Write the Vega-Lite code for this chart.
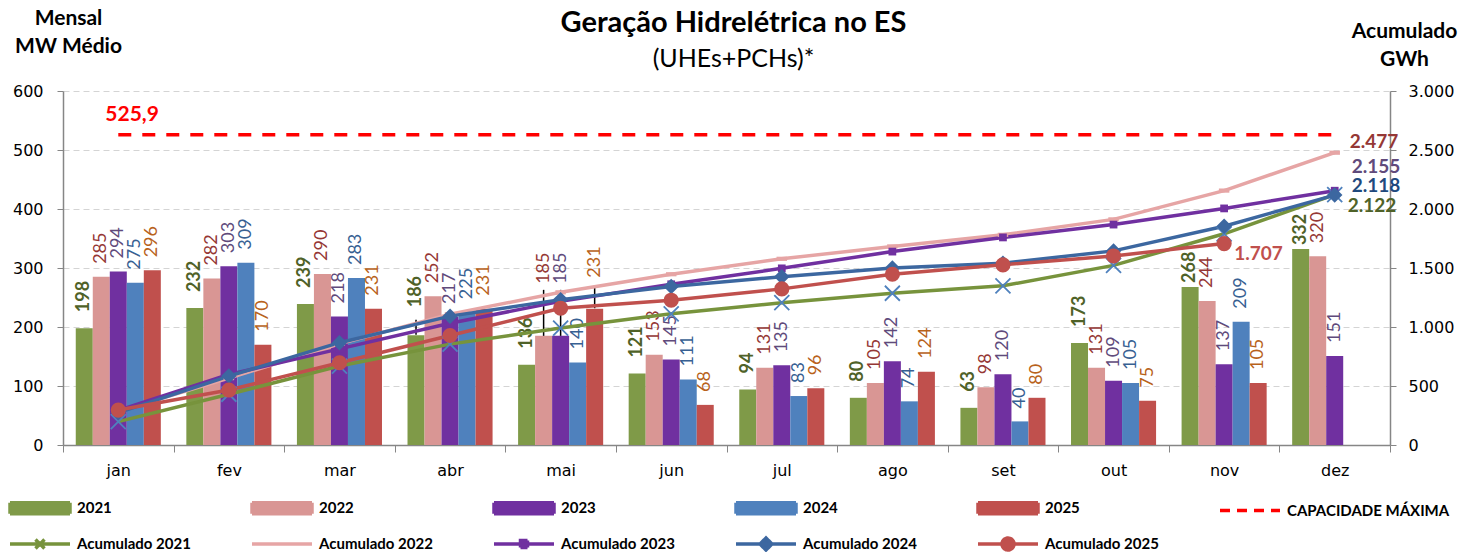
{
  "$schema": "https://vega.github.io/schema/vega-lite/v6.json",
  "autosize": {"type": "none"},
  "width": 1327,
  "height": 354,
  "padding": {"left": 63, "top": 91, "right": 69, "bottom": 107},
  "background": "white",
  "config": {
    "locale": {"number": {"decimal": ",", "thousands": ".", "grouping": [3], "currency": ["R$", ""]}},
    "view": {"stroke": null},
    "font": "Lato"
  },
  "title": {
    "text": "Geração Hidrelétrica no ES",
    "subtitle": "(UHEs+PCHs)*",
    "anchor": "middle",
    "frame": "group",
    "font": "Lato",
    "fontSize": 29,
    "fontWeight": "bold",
    "color": "black",
    "subtitleFont": "Lato",
    "subtitleFontSize": 25,
    "subtitleColor": "black",
    "subtitlePadding": 9,
    "offset": -65,
    "dx": 7
  },
  "datasets": {
    "monthly": [
      {"month": "jan", "series": "2021", "value": 198}, {"month": "fev", "series": "2021", "value": 232}, {"month": "mar", "series": "2021", "value": 239}, {"month": "abr", "series": "2021", "value": 186}, {"month": "mai", "series": "2021", "value": 136}, {"month": "jun", "series": "2021", "value": 121}, {"month": "jul", "series": "2021", "value": 94}, {"month": "ago", "series": "2021", "value": 80}, {"month": "set", "series": "2021", "value": 63}, {"month": "out", "series": "2021", "value": 173}, {"month": "nov", "series": "2021", "value": 268}, {"month": "dez", "series": "2021", "value": 332},
      {"month": "jan", "series": "2022", "value": 285}, {"month": "fev", "series": "2022", "value": 282}, {"month": "mar", "series": "2022", "value": 290}, {"month": "abr", "series": "2022", "value": 252}, {"month": "mai", "series": "2022", "value": 185}, {"month": "jun", "series": "2022", "value": 153}, {"month": "jul", "series": "2022", "value": 131}, {"month": "ago", "series": "2022", "value": 105}, {"month": "set", "series": "2022", "value": 98}, {"month": "out", "series": "2022", "value": 131}, {"month": "nov", "series": "2022", "value": 244}, {"month": "dez", "series": "2022", "value": 320},
      {"month": "jan", "series": "2023", "value": 294}, {"month": "fev", "series": "2023", "value": 303}, {"month": "mar", "series": "2023", "value": 218}, {"month": "abr", "series": "2023", "value": 217}, {"month": "mai", "series": "2023", "value": 185}, {"month": "jun", "series": "2023", "value": 145}, {"month": "jul", "series": "2023", "value": 135}, {"month": "ago", "series": "2023", "value": 142}, {"month": "set", "series": "2023", "value": 120}, {"month": "out", "series": "2023", "value": 109}, {"month": "nov", "series": "2023", "value": 137}, {"month": "dez", "series": "2023", "value": 151},
      {"month": "jan", "series": "2024", "value": 275}, {"month": "fev", "series": "2024", "value": 309}, {"month": "mar", "series": "2024", "value": 283}, {"month": "abr", "series": "2024", "value": 225}, {"month": "mai", "series": "2024", "value": 140}, {"month": "jun", "series": "2024", "value": 111}, {"month": "jul", "series": "2024", "value": 83}, {"month": "ago", "series": "2024", "value": 74}, {"month": "set", "series": "2024", "value": 40}, {"month": "out", "series": "2024", "value": 105}, {"month": "nov", "series": "2024", "value": 209},
      {"month": "jan", "series": "2025", "value": 296}, {"month": "fev", "series": "2025", "value": 170}, {"month": "mar", "series": "2025", "value": 231}, {"month": "abr", "series": "2025", "value": 231}, {"month": "mai", "series": "2025", "value": 231}, {"month": "jun", "series": "2025", "value": 68}, {"month": "jul", "series": "2025", "value": 96}, {"month": "ago", "series": "2025", "value": 124}, {"month": "set", "series": "2025", "value": 80}, {"month": "out", "series": "2025", "value": 75}, {"month": "nov", "series": "2025", "value": 105}
    ],
    "cumul": [
      {"month": "jan", "series": "Acumulado 2021", "cum": 198}, {"month": "fev", "series": "Acumulado 2021", "cum": 430}, {"month": "mar", "series": "Acumulado 2021", "cum": 669}, {"month": "abr", "series": "Acumulado 2021", "cum": 855}, {"month": "mai", "series": "Acumulado 2021", "cum": 991}, {"month": "jun", "series": "Acumulado 2021", "cum": 1112}, {"month": "jul", "series": "Acumulado 2021", "cum": 1206}, {"month": "ago", "series": "Acumulado 2021", "cum": 1286}, {"month": "set", "series": "Acumulado 2021", "cum": 1349}, {"month": "out", "series": "Acumulado 2021", "cum": 1522}, {"month": "nov", "series": "Acumulado 2021", "cum": 1790}, {"month": "dez", "series": "Acumulado 2021", "cum": 2122},
      {"month": "jan", "series": "Acumulado 2022", "cum": 285}, {"month": "fev", "series": "Acumulado 2022", "cum": 567}, {"month": "mar", "series": "Acumulado 2022", "cum": 857}, {"month": "abr", "series": "Acumulado 2022", "cum": 1109}, {"month": "mai", "series": "Acumulado 2022", "cum": 1294}, {"month": "jun", "series": "Acumulado 2022", "cum": 1447}, {"month": "jul", "series": "Acumulado 2022", "cum": 1578}, {"month": "ago", "series": "Acumulado 2022", "cum": 1683}, {"month": "set", "series": "Acumulado 2022", "cum": 1781}, {"month": "out", "series": "Acumulado 2022", "cum": 1912}, {"month": "nov", "series": "Acumulado 2022", "cum": 2156}, {"month": "dez", "series": "Acumulado 2022", "cum": 2477},
      {"month": "jan", "series": "Acumulado 2023", "cum": 294}, {"month": "fev", "series": "Acumulado 2023", "cum": 597}, {"month": "mar", "series": "Acumulado 2023", "cum": 815}, {"month": "abr", "series": "Acumulado 2023", "cum": 1032}, {"month": "mai", "series": "Acumulado 2023", "cum": 1217}, {"month": "jun", "series": "Acumulado 2023", "cum": 1362}, {"month": "jul", "series": "Acumulado 2023", "cum": 1497}, {"month": "ago", "series": "Acumulado 2023", "cum": 1639}, {"month": "set", "series": "Acumulado 2023", "cum": 1759}, {"month": "out", "series": "Acumulado 2023", "cum": 1868}, {"month": "nov", "series": "Acumulado 2023", "cum": 2005}, {"month": "dez", "series": "Acumulado 2023", "cum": 2155},
      {"month": "jan", "series": "Acumulado 2024", "cum": 275}, {"month": "fev", "series": "Acumulado 2024", "cum": 584}, {"month": "mar", "series": "Acumulado 2024", "cum": 867}, {"month": "abr", "series": "Acumulado 2024", "cum": 1092}, {"month": "mai", "series": "Acumulado 2024", "cum": 1232}, {"month": "jun", "series": "Acumulado 2024", "cum": 1343}, {"month": "jul", "series": "Acumulado 2024", "cum": 1426}, {"month": "ago", "series": "Acumulado 2024", "cum": 1500}, {"month": "set", "series": "Acumulado 2024", "cum": 1540}, {"month": "out", "series": "Acumulado 2024", "cum": 1645}, {"month": "nov", "series": "Acumulado 2024", "cum": 1854}, {"month": "dez", "series": "Acumulado 2024", "cum": 2118},
      {"month": "jan", "series": "Acumulado 2025", "cum": 296}, {"month": "fev", "series": "Acumulado 2025", "cum": 466}, {"month": "mar", "series": "Acumulado 2025", "cum": 697}, {"month": "abr", "series": "Acumulado 2025", "cum": 928}, {"month": "mai", "series": "Acumulado 2025", "cum": 1159}, {"month": "jun", "series": "Acumulado 2025", "cum": 1227}, {"month": "jul", "series": "Acumulado 2025", "cum": 1323}, {"month": "ago", "series": "Acumulado 2025", "cum": 1447}, {"month": "set", "series": "Acumulado 2025", "cum": 1527}, {"month": "out", "series": "Acumulado 2025", "cum": 1602}, {"month": "nov", "series": "Acumulado 2025", "cum": 1707}
    ],
    "cap": [
      {"month": "jan", "series": "CAPACIDADE MÁXIMA", "cap": 525.9},
      {"month": "dez", "series": "CAPACIDADE MÁXIMA", "cap": 525.9}
    ]
  },
  "layer": [
    {
      "layer": [
        {
          "data": {"name": "monthly"},
          "mark": {"type": "bar"},
          "encoding": {
            "x": {"field": "month", "type": "nominal", "scale": {"domain": ["jan","fev","mar","abr","mai","jun","jul","ago","set","out","nov","dez"], "paddingInner": 0, "paddingOuter": 0},
              "axis": {"title": null, "labelAngle": 0, "labelFont": "DejaVu Sans", "labelFontSize": 16, "labelColor": "black", "labelPadding": 10, "domainColor": "#868686", "tickColor": "#868686", "tickSize": 7, "tickBand": "extent", "domainWidth": 1.5}},
            "xOffset": {"field": "series", "type": "nominal", "scale": {"domain": ["2021","2022","2023","2024","2025"], "paddingOuter": 0.75, "paddingInner": 0}},
            "y": {"field": "value", "type": "quantitative", "scale": {"domain": [0, 600]},
              "axis": {"title": ["Mensal", "MW Médio"], "titleAngle": 0, "titleAlign": "center", "titleBaseline": "top", "titleX": 5, "titleY": -84, "titleFont": "Lato", "titleFontSize": 21, "titleFontWeight": "bold", "titleColor": "black", "titleLineHeight": 28,
                "values": [0,100,200,300,400,500,600], "format": "d", "grid": true, "gridDash": [6,4], "gridColor": "#D4D4D4", "domainColor": "#868686", "domainWidth": 1.5, "tickColor": "#868686", "tickSize": 6, "labelFont": "DejaVu Sans", "labelFontSize": 16, "labelColor": "black", "labelPadding": 14}},
            "color": {"field": "series", "type": "nominal",
              "scale": {"domain": ["2021","2022","2023","2024","2025","CAPACIDADE MÁXIMA","Acumulado 2021","Acumulado 2022","Acumulado 2023","Acumulado 2024","Acumulado 2025"],
                        "range": ["#7F9A48","#D99694","#7030A0","#4F81BD","#C0504D","#FF0000","#77933C","#E6A5A5","#7030A0","#3C67A0","#C0504D"]},
              "legend": {
                "title": null, "orient": "none", "legendX": -55, "legendY": 405, "direction": "horizontal", "columns": 6, "gridAlign": "all",
                "columnPadding": 5, "rowPadding": 10, "symbolSize": 400, "symbolType": "square", "labelOffset": 45,
                "labelFont": "Lato", "labelFontSize": 15, "labelFontWeight": "bold", "labelColor": "black", "labelLimit": 300,
                "encode": {"symbols": {"update": {
                  "shape": {"signal": "datum.value==='Acumulado 2021' ? 'M-1,0H5M1.55,-0.45L2.45,0.45M1.55,0.45L2.45,-0.45' : (datum.value==='Acumulado 2022' || datum.value==='CAPACIDADE MÁXIMA') ? 'M-1,0H5' : datum.value==='Acumulado 2023' ? 'M-1,0H5M1.65,-0.35H2.35V0.35H1.65Z' : datum.value==='Acumulado 2024' ? 'M-1,0H5M2,-0.6L2.6,0L2,0.6L1.4,0Z' : datum.value==='Acumulado 2025' ? 'M-1,0H5M1.4,0A0.6,0.6 0 1,0 2.6,0A0.6,0.6 0 1,0 1.4,0Z' : 'M-1,-0.55H5V0.55H-1Z'"},
                  "fill": {"signal": "datum.value==='Acumulado 2021' ? 'transparent' : scale('color', datum.value)"},
                  "stroke": {"signal": "(indexof(datum.value,'Acumulado')===0 || datum.value==='CAPACIDADE MÁXIMA') ? scale('color', datum.value) : 'transparent'"},
                  "strokeWidth": {"value": 3.5},
                  "strokeDash": {"signal": "datum.value==='CAPACIDADE MÁXIMA' ? [10,7] : [1,0]"},
                  "opacity": {"value": 1},
                  "size": {"value": 400}
                }}}
              }}
          }
        },
        {
          "data": {"name": "cap"},
          "mark": {"type": "line", "strokeWidth": 3.5, "strokeDash": [13, 11]},
          "encoding": {
            "x": {"field": "month", "type": "nominal", "scale": {"domain": ["jan","fev","mar","abr","mai","jun","jul","ago","set","out","nov","dez"], "paddingInner": 0, "paddingOuter": 0}},
            "y": {"field": "cap", "type": "quantitative", "scale": {"domain": [0, 600]}},
            "color": {"field": "series", "type": "nominal",
              "scale": {"domain": ["2021","2022","2023","2024","2025","CAPACIDADE MÁXIMA","Acumulado 2021","Acumulado 2022","Acumulado 2023","Acumulado 2024","Acumulado 2025"],
                        "range": ["#7F9A48","#D99694","#7030A0","#4F81BD","#C0504D","#FF0000","#77933C","#E6A5A5","#7030A0","#3C67A0","#C0504D"]}, "legend": null}
          }
        },
        {
          "data": {"name": "cap"},
          "transform": [{"filter": "datum.month==='jan'"}],
          "mark": {"type": "text", "align": "left", "baseline": "bottom", "dx": -13, "dy": -10, "font": "Lato", "fontSize": 21, "fontWeight": "bold", "color": "#FF0000"},
          "encoding": {
            "x": {"field": "month", "type": "nominal", "scale": {"domain": ["jan","fev","mar","abr","mai","jun","jul","ago","set","out","nov","dez"], "paddingInner": 0, "paddingOuter": 0}},
            "y": {"field": "cap", "type": "quantitative", "scale": {"domain": [0, 600]}},
            "text": {"field": "cap", "type": "quantitative", "format": ".1f"}
          }
        },
        {
          "data": {"name": "monthly"},
          "transform": [{"filter": "datum.series==='2021' && datum.month==='abr'"}],
          "mark": {"type": "tick", "orient": "vertical", "thickness": 1.5, "size": 15, "yOffset": -8, "color": "black", "opacity": 1},
          "encoding": {
            "x": {"field": "month", "type": "nominal", "scale": {"domain": ["jan","fev","mar","abr","mai","jun","jul","ago","set","out","nov","dez"], "paddingInner": 0, "paddingOuter": 0}},
            "xOffset": {"field": "series", "type": "nominal", "scale": {"domain": ["2021","2022","2023","2024","2025"], "paddingOuter": 0.75, "paddingInner": 0}},
            "y": {"field": "value", "type": "quantitative", "scale": {"domain": [0, 600]}}
          }
        },
        {
          "data": {"name": "monthly"},
          "transform": [{"filter": "datum.month==='mai' && (datum.series==='2022' || datum.series==='2023')"}],
          "mark": {"type": "tick", "orient": "vertical", "thickness": 1.5, "size": 46, "yOffset": -23, "color": "black", "opacity": 1},
          "encoding": {
            "x": {"field": "month", "type": "nominal", "scale": {"domain": ["jan","fev","mar","abr","mai","jun","jul","ago","set","out","nov","dez"], "paddingInner": 0, "paddingOuter": 0}},
            "xOffset": {"field": "series", "type": "nominal", "scale": {"domain": ["2021","2022","2023","2024","2025"], "paddingOuter": 0.75, "paddingInner": 0}},
            "y": {"field": "value", "type": "quantitative", "scale": {"domain": [0, 600]}}
          }
        },
        {
          "data": {"name": "monthly"},
          "transform": [{"filter": "datum.month==='mai' && datum.series==='2025'"}],
          "mark": {"type": "tick", "orient": "vertical", "thickness": 1.5, "size": 21, "yOffset": -11, "color": "black", "opacity": 1},
          "encoding": {
            "x": {"field": "month", "type": "nominal", "scale": {"domain": ["jan","fev","mar","abr","mai","jun","jul","ago","set","out","nov","dez"], "paddingInner": 0, "paddingOuter": 0}},
            "xOffset": {"field": "series", "type": "nominal", "scale": {"domain": ["2021","2022","2023","2024","2025"], "paddingOuter": 0.75, "paddingInner": 0}},
            "y": {"field": "value", "type": "quantitative", "scale": {"domain": [0, 600]}}
          }
        },
        {
          "data": {"name": "monthly"},
          "transform": [{"filter": "datum.series==='2021' && datum.month!=='abr' && datum.month!=='nov' && datum.month!=='dez'"}],
          "mark": {"type": "text", "angle": 270, "align": "left", "baseline": "middle", "dx": 16, "font": "Lato", "fontSize": 18, "fontWeight": "bold", "color": "#4F6228"},
          "encoding": {
            "x": {"field": "month", "type": "nominal", "scale": {"domain": ["jan","fev","mar","abr","mai","jun","jul","ago","set","out","nov","dez"], "paddingInner": 0, "paddingOuter": 0}},
            "xOffset": {"field": "series", "type": "nominal", "scale": {"domain": ["2021","2022","2023","2024","2025"], "paddingOuter": 0.75, "paddingInner": 0}},
            "y": {"field": "value", "type": "quantitative", "scale": {"domain": [0, 600]}},
            "text": {"field": "value", "type": "quantitative"}
          }
        },
        {
          "data": {"name": "monthly"},
          "transform": [{"filter": "datum.series==='2021' && datum.month==='abr'"}],
          "mark": {"type": "text", "angle": 270, "align": "left", "baseline": "middle", "dx": 28, "font": "Lato", "fontSize": 18, "fontWeight": "bold", "color": "#4F6228"},
          "encoding": {
            "x": {"field": "month", "type": "nominal", "scale": {"domain": ["jan","fev","mar","abr","mai","jun","jul","ago","set","out","nov","dez"], "paddingInner": 0, "paddingOuter": 0}},
            "xOffset": {"field": "series", "type": "nominal", "scale": {"domain": ["2021","2022","2023","2024","2025"], "paddingOuter": 0.75, "paddingInner": 0}},
            "y": {"field": "value", "type": "quantitative", "scale": {"domain": [0, 600]}},
            "text": {"field": "value", "type": "quantitative"}
          }
        },
        {
          "data": {"name": "monthly"},
          "transform": [{"filter": "datum.series==='2021' && (datum.month==='nov' || datum.month==='dez')"}],
          "mark": {"type": "text", "angle": 270, "align": "left", "baseline": "middle", "dx": 4, "font": "Lato", "fontSize": 18, "fontWeight": "bold", "color": "#4F6228"},
          "encoding": {
            "x": {"field": "month", "type": "nominal", "scale": {"domain": ["jan","fev","mar","abr","mai","jun","jul","ago","set","out","nov","dez"], "paddingInner": 0, "paddingOuter": 0}},
            "xOffset": {"field": "series", "type": "nominal", "scale": {"domain": ["2021","2022","2023","2024","2025"], "paddingOuter": 0.75, "paddingInner": 0}},
            "y": {"field": "value", "type": "quantitative", "scale": {"domain": [0, 600]}},
            "text": {"field": "value", "type": "quantitative"}
          }
        },
        {
          "data": {"name": "monthly"},
          "transform": [{"filter": "datum.series!=='2021' && !(datum.month==='mai' && datum.series!=='2024')"}],
          "mark": {"type": "text", "angle": 270, "align": "left", "baseline": "middle", "dx": 13, "font": "Lato", "fontSize": 18},
          "encoding": {
            "x": {"field": "month", "type": "nominal", "scale": {"domain": ["jan","fev","mar","abr","mai","jun","jul","ago","set","out","nov","dez"], "paddingInner": 0, "paddingOuter": 0}},
            "xOffset": {"field": "series", "type": "nominal", "scale": {"domain": ["2021","2022","2023","2024","2025"], "paddingOuter": 0.75, "paddingInner": 0}},
            "y": {"field": "value", "type": "quantitative", "scale": {"domain": [0, 600]}},
            "text": {"field": "value", "type": "quantitative"},
            "color": {"condition": [{"test": "datum.series==='2022'", "value": "#953735"}, {"test": "datum.series==='2023'", "value": "#604A7B"}, {"test": "datum.series==='2024'", "value": "#376092"}], "value": "#B8621B"}
          }
        },
        {
          "data": {"name": "monthly"},
          "transform": [{"filter": "datum.month==='mai' && (datum.series==='2022' || datum.series==='2023')"}],
          "mark": {"type": "text", "angle": 270, "align": "left", "baseline": "middle", "dx": 52, "font": "Lato", "fontSize": 18},
          "encoding": {
            "x": {"field": "month", "type": "nominal", "scale": {"domain": ["jan","fev","mar","abr","mai","jun","jul","ago","set","out","nov","dez"], "paddingInner": 0, "paddingOuter": 0}},
            "xOffset": {"field": "series", "type": "nominal", "scale": {"domain": ["2021","2022","2023","2024","2025"], "paddingOuter": 0.75, "paddingInner": 0}},
            "y": {"field": "value", "type": "quantitative", "scale": {"domain": [0, 600]}},
            "text": {"field": "value", "type": "quantitative"},
            "color": {"condition": [{"test": "datum.series==='2022'", "value": "#953735"}], "value": "#604A7B"}
          }
        },
        {
          "data": {"name": "monthly"},
          "transform": [{"filter": "datum.month==='mai' && datum.series==='2025'"}],
          "mark": {"type": "text", "angle": 270, "align": "left", "baseline": "middle", "dx": 31, "font": "Lato", "fontSize": 18, "color": "#B8621B"},
          "encoding": {
            "x": {"field": "month", "type": "nominal", "scale": {"domain": ["jan","fev","mar","abr","mai","jun","jul","ago","set","out","nov","dez"], "paddingInner": 0, "paddingOuter": 0}},
            "xOffset": {"field": "series", "type": "nominal", "scale": {"domain": ["2021","2022","2023","2024","2025"], "paddingOuter": 0.75, "paddingInner": 0}},
            "y": {"field": "value", "type": "quantitative", "scale": {"domain": [0, 600]}},
            "text": {"field": "value", "type": "quantitative"}
          }
        }
      ]
    },
    {
      "layer": [
        {
          "data": {"name": "cumul"},
          "mark": {"type": "line", "strokeWidth": 3.5},
          "encoding": {
            "x": {"field": "month", "type": "nominal", "scale": {"domain": ["jan","fev","mar","abr","mai","jun","jul","ago","set","out","nov","dez"], "paddingInner": 0, "paddingOuter": 0}},
            "y": {"field": "cum", "type": "quantitative", "scale": {"domain": [0, 3000]},
              "axis": {"orient": "right", "title": ["Acumulado", "GWh"], "titleAngle": 0, "titleAlign": "center", "titleBaseline": "top", "titleX": 14, "titleY": -71, "titleFont": "Lato", "titleFontSize": 21, "titleFontWeight": "bold", "titleColor": "black", "titleLineHeight": 28,
                "values": [0,500,1000,1500,2000,2500,3000], "format": ",.0f", "grid": false, "domainColor": "#868686", "domainWidth": 1.5, "tickColor": "#868686", "tickSize": 6, "labelFont": "DejaVu Sans", "labelFontSize": 16, "labelColor": "black", "labelPadding": 12}},
            "color": {"field": "series", "type": "nominal",
              "scale": {"domain": ["2021","2022","2023","2024","2025","CAPACIDADE MÁXIMA","Acumulado 2021","Acumulado 2022","Acumulado 2023","Acumulado 2024","Acumulado 2025"],
                        "range": ["#7F9A48","#D99694","#7030A0","#4F81BD","#C0504D","#FF0000","#77933C","#E6A5A5","#7030A0","#3C67A0","#C0504D"]}, "legend": null}
          }
        },
        {
          "data": {"name": "cumul"},
          "transform": [{"filter": "datum.series==='Acumulado 2021'"}],
          "mark": {"type": "point", "shape": "M-1,-1L1,1M-1,1L1,-1", "filled": false, "size": 225, "strokeWidth": 1.8, "color": "#4F81BD", "opacity": 1},
          "encoding": {
            "x": {"field": "month", "type": "nominal", "scale": {"domain": ["jan","fev","mar","abr","mai","jun","jul","ago","set","out","nov","dez"], "paddingInner": 0, "paddingOuter": 0}},
            "y": {"field": "cum", "type": "quantitative", "scale": {"domain": [0, 3000]}}
          }
        },
        {
          "data": {"name": "cumul"},
          "transform": [{"filter": "datum.series==='Acumulado 2022'"}],
          "mark": {"type": "point", "shape": "M-1,-0.4H1V0.4H-1Z", "filled": true, "size": 110, "color": "#E6A5A5", "opacity": 1},
          "encoding": {
            "x": {"field": "month", "type": "nominal", "scale": {"domain": ["jan","fev","mar","abr","mai","jun","jul","ago","set","out","nov","dez"], "paddingInner": 0, "paddingOuter": 0}},
            "y": {"field": "cum", "type": "quantitative", "scale": {"domain": [0, 3000]}}
          }
        },
        {
          "data": {"name": "cumul"},
          "transform": [{"filter": "datum.series==='Acumulado 2023'"}],
          "mark": {"type": "point", "shape": "square", "filled": true, "size": 60, "color": "#7030A0", "opacity": 1},
          "encoding": {
            "x": {"field": "month", "type": "nominal", "scale": {"domain": ["jan","fev","mar","abr","mai","jun","jul","ago","set","out","nov","dez"], "paddingInner": 0, "paddingOuter": 0}},
            "y": {"field": "cum", "type": "quantitative", "scale": {"domain": [0, 3000]}}
          }
        },
        {
          "data": {"name": "cumul"},
          "transform": [{"filter": "datum.series==='Acumulado 2024'"}],
          "mark": {"type": "point", "shape": "diamond", "filled": true, "size": 240, "color": "#3C67A0", "opacity": 1},
          "encoding": {
            "x": {"field": "month", "type": "nominal", "scale": {"domain": ["jan","fev","mar","abr","mai","jun","jul","ago","set","out","nov","dez"], "paddingInner": 0, "paddingOuter": 0}},
            "y": {"field": "cum", "type": "quantitative", "scale": {"domain": [0, 3000]}}
          }
        },
        {
          "data": {"name": "cumul"},
          "transform": [{"filter": "datum.series==='Acumulado 2025'"}],
          "mark": {"type": "point", "shape": "circle", "filled": true, "size": 230, "color": "#C0504D", "opacity": 1},
          "encoding": {
            "x": {"field": "month", "type": "nominal", "scale": {"domain": ["jan","fev","mar","abr","mai","jun","jul","ago","set","out","nov","dez"], "paddingInner": 0, "paddingOuter": 0}},
            "y": {"field": "cum", "type": "quantitative", "scale": {"domain": [0, 3000]}}
          }
        },
        {
          "data": {"name": "cumul"},
          "transform": [{"filter": "datum.series==='Acumulado 2022' && datum.month==='dez'"}],
          "mark": {"type": "text", "align": "left", "baseline": "middle", "dx": 15, "dy": -11, "font": "Lato", "fontSize": 19, "fontWeight": "bold", "color": "#953735"},
          "encoding": {
            "x": {"field": "month", "type": "nominal", "scale": {"domain": ["jan","fev","mar","abr","mai","jun","jul","ago","set","out","nov","dez"], "paddingInner": 0, "paddingOuter": 0}},
            "y": {"field": "cum", "type": "quantitative", "scale": {"domain": [0, 3000]}},
            "text": {"field": "cum", "type": "quantitative", "format": ",.0f"}
          }
        },
        {
          "data": {"name": "cumul"},
          "transform": [{"filter": "datum.series==='Acumulado 2023' && datum.month==='dez'"}],
          "mark": {"type": "text", "align": "left", "baseline": "middle", "dx": 17, "dy": -24, "font": "Lato", "fontSize": 19, "fontWeight": "bold", "color": "#604A7B"},
          "encoding": {
            "x": {"field": "month", "type": "nominal", "scale": {"domain": ["jan","fev","mar","abr","mai","jun","jul","ago","set","out","nov","dez"], "paddingInner": 0, "paddingOuter": 0}},
            "y": {"field": "cum", "type": "quantitative", "scale": {"domain": [0, 3000]}},
            "text": {"field": "cum", "type": "quantitative", "format": ",.0f"}
          }
        },
        {
          "data": {"name": "cumul"},
          "transform": [{"filter": "datum.series==='Acumulado 2024' && datum.month==='dez'"}],
          "mark": {"type": "text", "align": "left", "baseline": "middle", "dx": 17, "dy": -9, "font": "Lato", "fontSize": 19, "fontWeight": "bold", "color": "#1F497D"},
          "encoding": {
            "x": {"field": "month", "type": "nominal", "scale": {"domain": ["jan","fev","mar","abr","mai","jun","jul","ago","set","out","nov","dez"], "paddingInner": 0, "paddingOuter": 0}},
            "y": {"field": "cum", "type": "quantitative", "scale": {"domain": [0, 3000]}},
            "text": {"field": "cum", "type": "quantitative", "format": ",.0f"}
          }
        },
        {
          "data": {"name": "cumul"},
          "transform": [{"filter": "datum.series==='Acumulado 2021' && datum.month==='dez'"}],
          "mark": {"type": "text", "align": "left", "baseline": "middle", "dx": 13, "dy": 11, "font": "Lato", "fontSize": 19, "fontWeight": "bold", "color": "#4F6228"},
          "encoding": {
            "x": {"field": "month", "type": "nominal", "scale": {"domain": ["jan","fev","mar","abr","mai","jun","jul","ago","set","out","nov","dez"], "paddingInner": 0, "paddingOuter": 0}},
            "y": {"field": "cum", "type": "quantitative", "scale": {"domain": [0, 3000]}},
            "text": {"field": "cum", "type": "quantitative", "format": ",.0f"}
          }
        },
        {
          "data": {"name": "cumul"},
          "transform": [{"filter": "datum.series==='Acumulado 2025' && datum.month==='nov'"}],
          "mark": {"type": "text", "align": "left", "baseline": "middle", "dx": 10, "dy": 10, "font": "Lato", "fontSize": 19, "fontWeight": "bold", "color": "#C0504D"},
          "encoding": {
            "x": {"field": "month", "type": "nominal", "scale": {"domain": ["jan","fev","mar","abr","mai","jun","jul","ago","set","out","nov","dez"], "paddingInner": 0, "paddingOuter": 0}},
            "y": {"field": "cum", "type": "quantitative", "scale": {"domain": [0, 3000]}},
            "text": {"field": "cum", "type": "quantitative", "format": ",.0f"}
          }
        }
      ]
    }
  ],
  "resolve": {"scale": {"y": "independent"}}
}
